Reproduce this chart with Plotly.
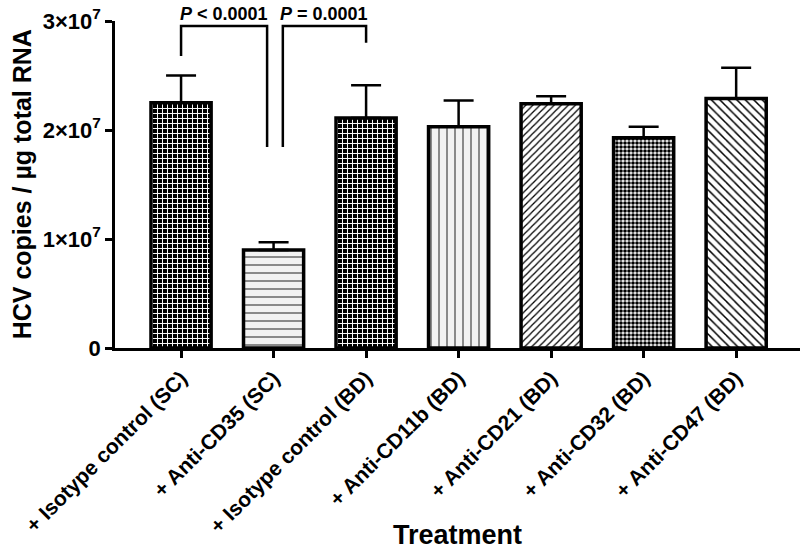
import plotly.graph_objects as go

categories = ["+ Isotype control (SC)", "+ Anti-CD35 (SC)", "+ Isotype control (BD)",
              "+ Anti-CD11b (BD)", "+ Anti-CD21 (BD)", "+ Anti-CD32 (BD)", "+ Anti-CD47 (BD)"]
means = [2.25e7, 0.90e7, 2.11e7, 2.03e7, 2.24e7, 1.93e7, 2.29e7]
errors_up = [0.25e7, 0.07e7, 0.30e7, 0.24e7, 0.07e7, 0.10e7, 0.28e7]

ytick_vals = [0, 1e7, 2e7, 3e7]
ytick_text = ["0", "1×10<sup>7</sup>", "2×10<sup>7</sup>", "3×10<sup>7</sup>"]

# bracket: (left x, right x, top y, left foot y, right foot y, label)
brackets = [
    (0.0, 0.93, 2.955e7, 2.68e7, 1.845e7, "<i>P</i> < 0.0001"),
    (1.10, 2.0, 2.955e7, 1.845e7, 2.80e7, "<i>P</i> = 0.0001"),
]

pat_shapes = ["+", "-", "+", "|", "/", ".", "\\"]
pat_bg = ["black", "#f2f2f2", "black", "#f2f2f2", "white", "white", "white"]
pat_fg = ["white", "#444444", "white", "#444444", "black", "black", "black"]
pat_size = [5, 8, 5, 8, 5, 4, 6]
pat_sol = [0.35, 0.15, 0.35, 0.15, 0.25, 0.65, 0.25]

FONT = "Liberation Sans, Arial, sans-serif"

fig = go.Figure()
fig.add_trace(go.Bar(
    x=categories, y=means, width=0.65,
    marker=dict(
        color="white",
        line=dict(color="black", width=3.5),
        pattern=dict(shape=pat_shapes, bgcolor=pat_bg, fgcolor=pat_fg,
                     size=pat_size, solidity=pat_sol, fillmode="replace"),
    ),
    error_y=dict(type="data", array=errors_up, arrayminus=[0] * len(means),
                 symmetric=False, color="black", thickness=2.5, width=15),
    showlegend=False,
))

for (x0, x1, ytop, yl, yr, label) in brackets:
    fig.add_trace(go.Scatter(
        x=[x0, x0, x1, x1], y=[yl, ytop, ytop, yr], mode="lines",
        line=dict(color="black", width=2.5), showlegend=False,
        xaxis="x2", cliponaxis=False,
    ))
    fig.add_annotation(x=(x0 + x1) / 2, y=ytop, xref="x2", yref="y",
                       text=label, showarrow=False, yanchor="bottom", yshift=0,
                       font=dict(family=FONT, size=18, color="black", weight="bold"))

# axis titles as annotations for exact placement
fig.add_annotation(text="Treatment", xref="paper", yref="paper", x=0.5, y=-0.572,
                   xanchor="center", yanchor="middle", showarrow=False,
                   font=dict(family=FONT, size=27, color="black", weight="bold"))
fig.add_annotation(text="HCV copies / µg total RNA", xref="paper", yref="paper",
                   x=-0.136, y=0.5, xanchor="center", yanchor="middle", textangle=-90,
                   showarrow=False,
                   font=dict(family=FONT, size=25, color="black", weight="bold"))

xrange = [-0.714, 6.69]
fig.update_layout(
    width=800, height=549,
    margin=dict(l=115, r=0, t=21, b=201),
    plot_bgcolor="white", paper_bgcolor="white",
    font=dict(family=FONT, color="black"),
    xaxis=dict(range=xrange, showline=True, linecolor="black", linewidth=2.5,
               ticks="outside", ticklen=7, tickwidth=2.5, tickcolor="black",
               tickangle=-45, tickfont=dict(family=FONT, size=21, weight="bold"),
               showgrid=False, zeroline=False, automargin=False),
    xaxis2=dict(range=xrange, overlaying="x", visible=False, showgrid=False),
    yaxis=dict(range=[0, 3e7], showline=True, linecolor="black", linewidth=2.5,
               ticks="outside", ticklen=7, tickwidth=2.5, tickcolor="black",
               tickvals=ytick_vals, ticktext=ytick_text,
               tickfont=dict(family=FONT, size=22, weight="bold"),
               showgrid=False, zeroline=False, automargin=False),
)

fig.write_html("out.html", config={"displayModeBar": False},
               post_script="document.body.style.margin='0';")
